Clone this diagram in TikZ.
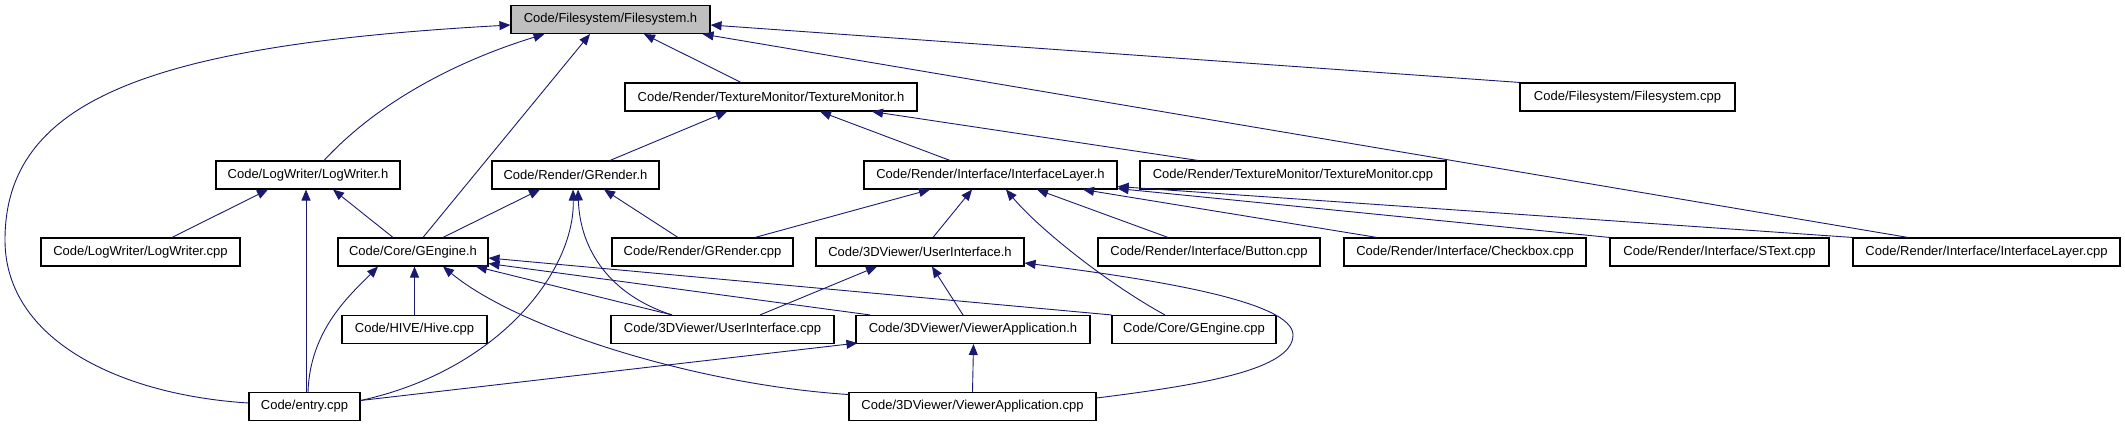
\documentclass[tikz,border=0pt]{standalone}
\usepackage{fontspec}
\setmainfont{Liberation Sans}
\usetikzlibrary{arrows.meta}
\definecolor{edgeblue}{RGB}{25,25,112}
\begin{document}
\begin{tikzpicture}[x=1pt,y=-1pt,
  box/.style={draw=black,line width=1.1pt,fill=white,minimum height=28pt,inner sep=0pt,font=\fontsize{13}{15}\selectfont,anchor=center},
  dep/.style={draw=edgeblue,line width=0.9pt,-{Triangle[length=11pt,width=9pt]}}]
\useasboundingbox (0,0) rectangle (2125,427);
% row 0
\node[box,minimum width=199pt,fill=black!25] (fsh) at (610.5,19.5) {Code/Filesystem/Filesystem.h};
% row 1
\node[box,minimum width=292pt] (tmh) at (771,97) {Code/Render/TextureMonitor/TextureMonitor.h};
\node[box,minimum width=215pt] (fscpp) at (1627.5,97) {Code/Filesystem/Filesystem.cpp};
% row 2
\node[box,minimum width=184pt] (lwh) at (308,175) {Code/LogWriter/LogWriter.h};
\node[box,minimum width=167pt] (grh) at (575.5,175) {Code/Render/GRender.h};
\node[box,minimum width=253pt] (ilh) at (990.5,175) {Code/Render/Interface/InterfaceLayer.h};
\node[box,minimum width=306pt] (tmcpp) at (1293,175) {Code/Render/TextureMonitor/TextureMonitor.cpp};
% row 3
\node[box,minimum width=199pt] (lwcpp) at (140.5,252) {Code/LogWriter/LogWriter.cpp};
\node[box,minimum width=150pt] (geh) at (413,252) {Code/Core/GEngine.h};
\node[box,minimum width=181pt] (grcpp) at (702.5,252) {Code/Render/GRender.cpp};
\node[box,minimum width=208pt] (uih) at (920,252) {Code/3DViewer/UserInterface.h};
\node[box,minimum width=222pt] (btn) at (1209,252) {Code/Render/Interface/Button.cpp};
\node[box,minimum width=242pt] (chk) at (1465,252) {Code/Render/Interface/Checkbox.cpp};
\node[box,minimum width=219pt] (stext) at (1719.5,252) {Code/Render/Interface/SText.cpp};
\node[box,minimum width=267pt] (ilcpp) at (1986.5,252) {Code/Render/Interface/InterfaceLayer.cpp};
% row 4
\node[box,minimum width=145pt] (hive) at (414.5,329.5) {Code/HIVE/Hive.cpp};
\node[box,minimum width=223pt] (uicpp) at (722.5,329.5) {Code/3DViewer/UserInterface.cpp};
\node[box,minimum width=234pt] (vah) at (973,329.5) {Code/3DViewer/ViewerApplication.h};
\node[box,minimum width=164pt] (gecpp) at (1194,329.5) {Code/Core/GEngine.cpp};
% row 5
\node[box,minimum width=111pt] (entry) at (304.5,406.5) {Code/entry.cpp};
\node[box,minimum width=247pt] (vacpp) at (972.5,406.5) {Code/3DViewer/ViewerApplication.cpp};

% edges into Filesystem.h
\draw[dep] ([shift={(0,-3.5)}]entry.west) .. controls (120,395) and (5,340) .. (5,240) .. controls (5,100) and (150,45) .. ([shift={(0,5.5)}]fsh.west);
\draw[dep] ([shift={(16,0)}]lwh.north) .. controls (380,100) and (460,60) .. ([shift={(-66,0)}]fsh.south);
\draw[dep] ([shift={(10,0)}]geh.north) -- ([shift={(-20.5,0)}]fsh.south);
\draw[dep] ([shift={(-30,0)}]tmh.north) -- ([shift={(33.5,0)}]fsh.south);
\draw[dep] (fscpp.north west) -- ([shift={(0,5.5)}]fsh.east);
\draw[dep] ([shift={(-78.5,0)}]ilcpp.north) -- ([shift={(-8,0)}]fsh.south east);
% edges into TextureMonitor.h
\draw[dep] ([shift={(34.5,0)}]grh.north) -- ([shift={(-44,0)}]tmh.south);
\draw[dep] ([shift={(-40.5,0)}]ilh.north) -- ([shift={(49,0)}]tmh.south);
\draw[dep] ([shift={(-95,0)}]tmcpp.north) -- ([shift={(101,0)}]tmh.south);
% edges into LogWriter.h
\draw[dep] ([shift={(31.5,0)}]lwcpp.north) -- ([shift={(-40,0)}]lwh.south);
\draw[dep] ([shift={(1.5,0)}]entry.north) -- ([shift={(-2,0)}]lwh.south);
\draw[dep] ([shift={(-20,0)}]geh.north) -- ([shift={(25,0)}]lwh.south);
% edges into GRender.h
\draw[dep] ([shift={(30,0)}]geh.north) -- ([shift={(-35.5,0)}]grh.south);
\draw[dep] ([shift={(0,-6)}]entry.east) .. controls (500,370) and (575,270) .. ([shift={(-2.5,0)}]grh.south);
\draw[dep] ([shift={(-50.5,0)}]uicpp.north) .. controls (610,295) and (580,250) .. ([shift={(2.5,0)}]grh.south);
\draw[dep] ([shift={(-24.5,0)}]grcpp.north) -- ([shift={(28.5,0)}]grh.south);
% edges into InterfaceLayer.h
\draw[dep] ([shift={(52.5,0)}]grcpp.north) -- ([shift={(-60.5,0)}]ilh.south);
\draw[dep] ([shift={(13,0)}]uih.north) -- ([shift={(-18.5,0)}]ilh.south);
\draw[dep] ([shift={(-29,0)}]gecpp.north) .. controls (1110,285) and (1040,230) .. ([shift={(15.5,0)}]ilh.south);
\draw[dep] ([shift={(-41,0)}]btn.north) -- ([shift={(46.5,0)}]ilh.south);
\draw[dep] ([shift={(-88,0)}]chk.north) -- ([shift={(92.5,0)}]ilh.south);
\draw[dep] (stext.north west) -- ([shift={(0,-1)}]ilh.south east);
\draw[dep] (ilcpp.north west) -- ([shift={(0,-3)}]ilh.south east);
% edges into GEngine.h
\draw[dep] ([shift={(3.5,0)}]entry.north) .. controls (310,330) and (350,295) .. ([shift={(-35,0)}]geh.south);
\draw[dep] (hive.north) -- ([shift={(1.5,0)}]geh.south);
\draw[dep] ([shift={(0,-12)}]vacpp.west) .. controls (700,385) and (520,330) .. ([shift={(30,0)}]geh.south);
\draw[dep] ([shift={(-50.5,0)}]uicpp.north) -- ([shift={(63,0)}]geh.south);
\draw[dep] (gecpp.north west) -- ([shift={(0,6)}]geh.east);
\draw[dep] ([shift={(-103,0)}]vah.north) -- ([shift={(0,-3)}]geh.south east);
% edges into UserInterface.h
\draw[dep] ([shift={(37.5,0)}]uicpp.north) -- ([shift={(-43,0)}]uih.south);
\draw[dep] ([shift={(-10,0)}]vah.north) -- ([shift={(12,0)}]uih.south);
\draw[dep] ([shift={(0,-8.5)}]vacpp.east) .. controls (1200,385) and (1293,370) .. (1293,335) .. controls (1293,302) and (1160,280) .. ([shift={(0,11)}]uih.east);
% edges into ViewerApplication.h
\draw[dep] ([shift={(0,-6)}]entry.east) -- ([shift={(2,-1)}]vah.south west);
\draw[dep] (vacpp.north) -- ([shift={(0.5,0)}]vah.south);
\end{tikzpicture}
\end{document}
